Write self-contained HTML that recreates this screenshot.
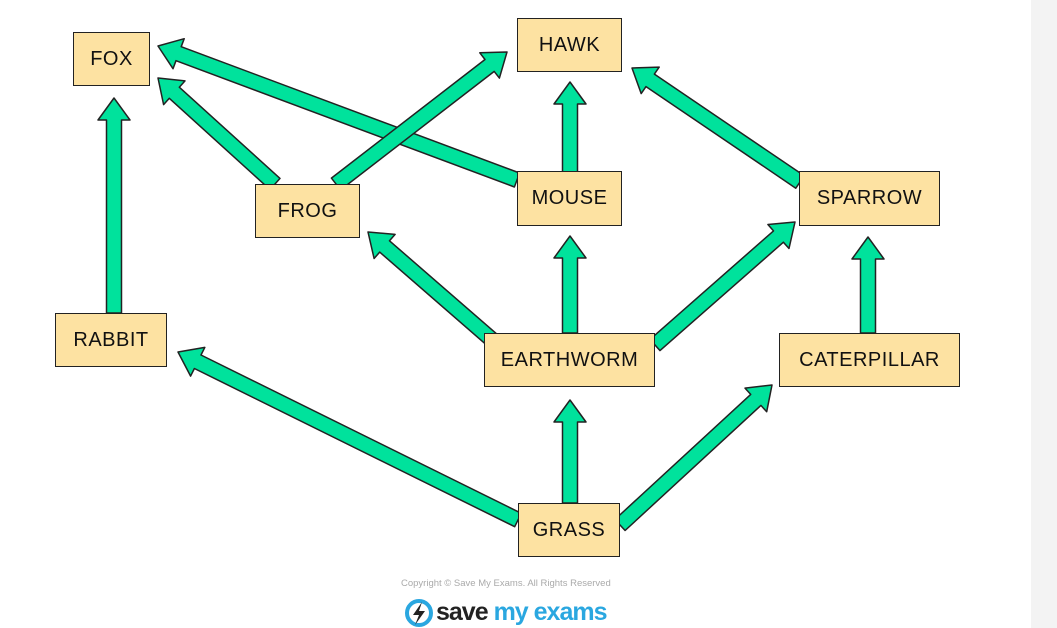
<!DOCTYPE html>
<html><head><meta charset="utf-8"><style>
html,body{margin:0;padding:0;background:#fff;}
body{width:1057px;height:628px;position:relative;overflow:hidden;font-family:"Liberation Sans",sans-serif;}
.strip{position:absolute;left:1031px;top:0;width:26px;height:628px;background:#f3f3f3;}
.box{position:absolute;background:#fde2a2;border:1.5px solid #222;box-sizing:border-box;display:flex;align-items:center;justify-content:center;font-size:20px;color:#111;letter-spacing:0.5px;}
.copy{position:absolute;left:401px;top:578px;font-size:9.5px;color:#aaa;}
.logo{position:absolute;left:436px;top:598px;font-size:25px;font-weight:bold;letter-spacing:-1px;}
</style></head><body>
<div class="strip"></div>
<svg id="s" width="1057" height="628" style="position:absolute;left:0;top:0"></svg>
<div class="box" style="left:73px;top:32px;width:77px;height:54px">FOX</div>
<div class="box" style="left:517px;top:18px;width:105px;height:54px">HAWK</div>
<div class="box" style="left:255px;top:184px;width:105px;height:54px">FROG</div>
<div class="box" style="left:517px;top:171px;width:105px;height:55px">MOUSE</div>
<div class="box" style="left:799px;top:171px;width:141px;height:55px">SPARROW</div>
<div class="box" style="left:55px;top:313px;width:112px;height:54px">RABBIT</div>
<div class="box" style="left:484px;top:333px;width:171px;height:54px">EARTHWORM</div>
<div class="box" style="left:779px;top:333px;width:181px;height:54px">CATERPILLAR</div>
<div class="box" style="left:518px;top:503px;width:102px;height:54px">GRASS</div>
<div class="copy">Copyright © Save My Exams. All Rights Reserved</div>
<svg style="position:absolute;left:404px;top:598px" width="30" height="30"><circle cx="15" cy="15" r="12" fill="none" stroke="#2aa7e0" stroke-width="4"/><path d="M18 4 L9 17 L15 17 L11 27 L21 13 L15 13 Z" fill="#222"/></svg>
<div class="logo"><span style="color:#222">save</span><span style="color:#2aa7e0"> my exams</span></div>
<script>
var A=[[114,313,114,98],[275,184,158,78],[517,180,158,46],[336,184,507,52],[570,172,570,82],[800,182,632,68],[498,345,368,232],[570,333,570,236],[655,345,795,222],[868,333,868,237],[518,520,178,352],[570,503,570,400],[620,525,772,385]];
var s=document.getElementById('s'),h='';
A.forEach(function(a){var dx=a[2]-a[0],dy=a[3]-a[1],L=Math.hypot(dx,dy),ux=dx/L,uy=dy/L,px=-uy,py=ux,w=7.5,hw=16,hl=22;
var bx=a[2]-ux*hl,by=a[3]-uy*hl;
var p=[[a[0]+px*w,a[1]+py*w],[bx+px*w,by+py*w],[bx+px*hw,by+py*hw],[a[2],a[3]],[bx-px*hw,by-py*hw],[bx-px*w,by-py*w],[a[0]-px*w,a[1]-py*w]];
h+='<polygon points="'+p.map(function(q){return q[0].toFixed(1)+','+q[1].toFixed(1)}).join(' ')+'" fill="#00e29c" stroke="#222" stroke-width="1.5" stroke-linejoin="round"/>';});
s.innerHTML=h;
</script>
</body></html>
